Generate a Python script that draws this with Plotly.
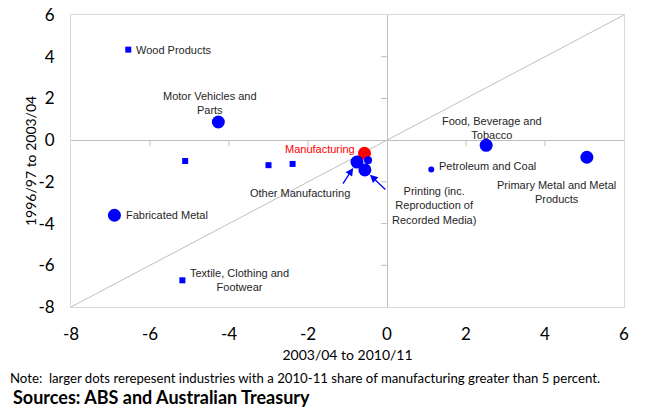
import plotly.graph_objects as go

# ---- data ----
industries = ["Wood Products", "Motor Vehicles and Parts", "Unlabelled A", "Unlabelled B",
              "Unlabelled C", "Manufacturing", "Other Manufacturing", "Unlabelled D",
              "Printing (inc. Reproduction of Recorded Media)", "Food, Beverage and Tobacco",
              "Petroleum and Coal", "Primary Metal and Metal Products", "Fabricated Metal",
              "Textile, Clothing and Footwear"]
x_2003_2011 = [-6.55, -4.27, -5.11, -3.0, -2.39, -0.57, -0.76, -0.48, -0.56, 2.51, 1.12, 5.06, -6.9, -5.18]
y_1997_2004 = [4.34, 0.87, -1.0, -1.2, -1.14, -0.63, -1.05, -0.97, -1.43, -0.25, -1.41, -0.82, -3.6, -6.72]
share_gt5 = [False, True, False, False, False, True, True, False, True, True, False, True, True, False]
marker_kind = ["square", "circle", "square", "square", "square", "circle", "circle", "circle",
               "circle", "circle", "circle", "circle", "circle", "square"]
is_total = [n == "Manufacturing" for n in industries]

tick_vals = [-8, -6, -4, -2, 0, 2, 4, 6]
tick_text = ["-8", "-6", "-4", "-2", "0", "2", "4", "6"]
x_title = "2003/04 to 2010/11"
y_title = "1996/97 to 2003/04"

# label layout: (text, xanchor, xshift, yshift)
labels = {
    "Wood Products": ("Wood Products", "left", 6, 0),
    "Motor Vehicles and Parts": ("Motor Vehicles and<br>Parts", "center", -8, 19),
    "Manufacturing": ("Manufacturing", "right", -7, 4),
    "Food, Beverage and Tobacco": ("Food, Beverage and<br>Tobacco", "center", 6, 17),
    "Petroleum and Coal": ("Petroleum and Coal", "left", 6, 4),
    "Primary Metal and Metal Products": ("Primary Metal and Metal<br>Products", "center", -30, -35),
    "Fabricated Metal": ("Fabricated Metal", "left", 10, 0),
    "Textile, Clothing and Footwear": ("Textile, Clothing and<br>Footwear", "left", 6, 0),
    "Other Manufacturing": ("Other Manufacturing", "center", -57, -31),
    "Printing (inc. Reproduction of Recorded Media)": ("Printing (inc.<br>Reproduction of<br>Recorded Media)", "center", 69, -36),
}

grey = "#BFBFBF"
blue = "#0000FF"
red = "#FF0000"

fig = go.Figure()

# 45-degree line
fig.add_trace(go.Scatter(x=[tick_vals[0], tick_vals[-1]], y=[tick_vals[0], tick_vals[-1]],
                         mode="lines", line=dict(color=grey, width=1),
                         hoverinfo="skip", showlegend=False))

sizes = [13 if s else 6 for s in share_gt5]
sizes[industries.index("Unlabelled D")] = 8
colors = [red if t else blue for t in is_total]
symbols = marker_kind

fig.add_trace(go.Scatter(x=x_2003_2011, y=y_1997_2004, mode="markers",
                         marker=dict(size=sizes, color=colors, symbol=symbols, opacity=1,
                                     line=dict(width=0)),
                         text=industries, hoverinfo="text", showlegend=False))

annotations = []
for name, (txt, xa, xs, ys) in labels.items():
    i = industries.index(name)
    annotations.append(dict(x=x_2003_2011[i], y=y_1997_2004[i], xref="x", yref="y",
                            text=txt, showarrow=False, xanchor=xa, yanchor="middle",
                            xshift=xs, yshift=ys,
                            font=dict(family="Liberation Sans, Arial", size=11,
                                      color=red if name == "Manufacturing" else "#262626")))

# arrows
for name, ax, ay in [("Other Manufacturing", -15, 23), ("Printing (inc. Reproduction of Recorded Media)", 22, 21)]:
    i = industries.index(name)
    annotations.append(dict(x=x_2003_2011[i], y=y_1997_2004[i], xref="x", yref="y",
                            text="", showarrow=True, ax=ax, ay=ay, axref="pixel", ayref="pixel",
                            arrowhead=2, arrowsize=1.2, arrowwidth=1.3, arrowcolor=blue, standoff=7))

# y axis title (as rotated text, to place it exactly)
annotations.append(dict(xref="paper", yref="paper", x=0, y=0.5, xanchor="center", yanchor="middle",
                        text=y_title, textangle=-90, showarrow=False, xshift=-41,
                        font=dict(family="Lato", size=14, color="#000000")))

# notes
annotations.append(dict(xref="paper", yref="paper", x=0, y=0, xanchor="left", yanchor="middle",
                        text="Note:  larger dots rerepesent industries with a 2010-11 share of manufacturing greater than 5 percent.",
                        showarrow=False, xshift=-63, yshift=-71,
                        font=dict(family="Lato", size=13.2, color="#000000")))
annotations.append(dict(xref="paper", yref="paper", x=0, y=0, xanchor="left", yanchor="middle",
                        text="<b>Sources: ABS and Australian Treasury</b>",
                        showarrow=False, xshift=-60, yshift=-90,
                        font=dict(family="Lato", size=18, color="#000000")))

# tick marks on zero lines
shapes = []
for v in tick_vals[1:-1]:
    if v == 0:
        continue
    shapes.append(dict(type="line", xref="x", yref="y", x0=v, x1=v, ysizemode="pixel",
                       yanchor=0, y0=0, y1=-6, line=dict(color=grey, width=1)))
    shapes.append(dict(type="line", xref="x", yref="y", y0=v, y1=v, xsizemode="pixel",
                       xanchor=0, x0=-6, x1=0, line=dict(color=grey, width=1)))

axis_common = dict(range=[tick_vals[0], tick_vals[-1]], tickvals=tick_vals, ticktext=tick_text,
                   showgrid=False, zeroline=True, zerolinecolor=grey, zerolinewidth=1,
                   showline=True, linecolor="#D9D9D9", linewidth=1, mirror=True, ticks="",
                   automargin=False, ticklabelstandoff=12, ticklabeloverflow="allow",
                   tickfont=dict(family="Lato", size=17, color="#000000"))

fig.update_layout(
    width=657, height=411,
    margin=dict(l=71, r=33, t=15, b=104),
    paper_bgcolor="white", plot_bgcolor="white",
    xaxis=dict(**axis_common, title=dict(text=x_title, standoff=6,
                                         font=dict(family="Lato", size=14, color="#000000"))),
    yaxis=dict(**axis_common),
    annotations=annotations,
    shapes=shapes,
)

# remove the page's default 8px body margin so the figure fills the window exactly
fig.write_html("out.html", config={"displayModeBar": False},
               post_script="document.body.style.margin='0';")
